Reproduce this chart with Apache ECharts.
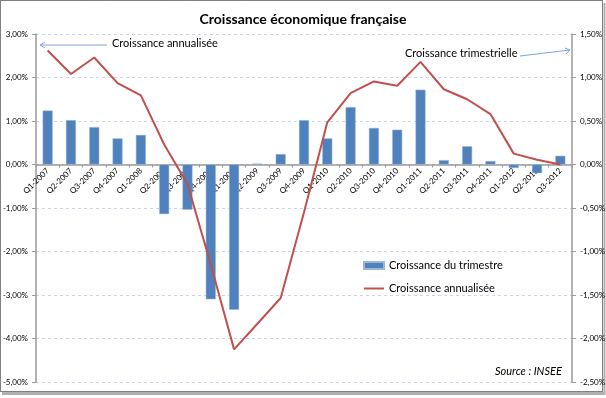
<!DOCTYPE html>
<html>
<head>
<meta charset="utf-8">
<script src="https://cdn.jsdelivr.net/npm/echarts@6/dist/echarts.min.js"></script>
<style>
  html, body { margin: 0; padding: 0; background: #fff; }
  #main { width: 606px; height: 398px; }
</style>
</head>
<body>
<div id="main"></div>
<script>
// trimestres
var categories = ['Q1-2007','Q2-2007','Q3-2007','Q4-2007','Q1-2008','Q2-2008','Q3-2008','Q4-2008',
    'Q1-2009','Q2-2009','Q3-2009','Q4-2009','Q1-2010','Q2-2010','Q3-2010','Q4-2010',
    'Q1-2011','Q2-2011','Q3-2011','Q4-2011','Q1-2012','Q2-2012','Q3-2012'];

// croissance du trimestre (axe de droite, en %)
var trimestre = [0.62, 0.51, 0.43, 0.30, 0.34, -0.57, -0.52, -1.55,
    -1.67, 0.01, 0.12, 0.51, 0.30, 0.66, 0.42, 0.40,
    0.86, 0.05, 0.21, 0.04, -0.04, -0.10, 0.10];

// croissance annualisée (axe de gauche, en %)
var annualisee = [2.62, 2.08, 2.46, 1.87, 1.59, 0.46, -0.45, -2.30,
    -4.25, -3.66, -3.07, -1.10, 0.97, 1.64, 1.91, 1.81,
    2.36, 1.73, 1.50, 1.16, 0.25, 0.11, 0.00];

var fontName = 'Lato, "Open Sans", sans-serif';

function pct(v) {
    return v.toFixed(2).replace('.', ',') + '%';
}

var myChart = echarts.init(document.getElementById('main'));

var axisCommon = {
    type: 'value',
    axisLine: { show: true, lineStyle: { color: '#9a9a9a', width: 1.5 } },
    axisTick: { show: true, length: 4, lineStyle: { color: '#9a9a9a' } },
    axisLabel: { fontSize: 8, color: '#000', fontFamily: fontName, formatter: pct },
    splitLine: { show: true, lineStyle: { color: '#c9d5ea', type: [3, 3] } }
};

var option = {
    animation: false,
    textStyle: { fontFamily: fontName },
    title: {
        text: 'Croissance économique française',
        left: 'center',
        top: 7,
        textStyle: { fontSize: 14, fontWeight: 'bold', color: '#000', fontFamily: fontName }
    },
    grid: { left: 36, right: 34, top: 34, bottom: 16, containLabel: false, outerBoundsMode: 'none' },
    legend: {
        orient: 'vertical',
        left: 358,
        top: 255,
        itemWidth: 20,
        itemHeight: 7,
        itemGap: 12,
        textStyle: { fontSize: 11, color: '#000', fontFamily: fontName },
        data: [
            { name: 'Croissance du trimestre', icon: 'rect' },
            { name: 'Croissance annualisée', icon: 'path://M0,0 H20 V2 H0 Z' }
        ]
    },
    xAxis: {
        type: 'category',
        data: categories,
        position: 'bottom',
        offset: -217.5, // axe placé au niveau du zéro
        axisLine: { onZero: false, lineStyle: { color: '#9a9a9a', width: 1.5 } },
        axisTick: { show: true, length: 3, lineStyle: { color: '#9a9a9a' } },
        axisLabel: { rotate: 45, fontSize: 8, color: '#000', margin: 5, interval: 0, fontFamily: fontName }
    },
    yAxis: [
        Object.assign({}, axisCommon, { min: -5, max: 3, interval: 1, position: 'left' }),
        Object.assign({}, axisCommon, { min: -2.5, max: 1.5, interval: 0.5, position: 'right',
            splitLine: { show: false } })
    ],
    series: [
        {
            name: 'Croissance du trimestre',
            type: 'bar',
            yAxisIndex: 1,
            barWidth: 10,
            itemStyle: { color: '#4f81bd', borderColor: '#9cb6d8', borderWidth: 0.5 },
            data: trimestre
        },
        {
            name: 'Croissance annualisée',
            type: 'line',
            yAxisIndex: 0,
            symbol: 'none',
            lineStyle: { color: '#c0504d', width: 2 },
            itemStyle: { color: '#c0504d' },
            data: annualisee
        }
    ],
    graphic: [
        // cadre pointillé + ombre
        { type: 'rect', shape: { x: 0.5, y: 0.5, width: 602, height: 391 },
          style: { fill: null, stroke: '#000', lineWidth: 1, lineDash: [1, 1] }, silent: true },
        { type: 'line', shape: { x1: 2, y1: 393.5, x2: 604, y2: 393.5 },
          style: { stroke: '#b0b0b0', lineWidth: 3 }, silent: true },
        { type: 'line', shape: { x1: 604.5, y1: 3, x2: 604.5, y2: 395 },
          style: { stroke: '#b0b0b0', lineWidth: 2 }, silent: true },
        // annotations
        { type: 'text', left: 112, top: 38,
          style: { text: 'Croissance annualisée', fontSize: 11, fill: '#000', fontFamily: fontName } },
        { type: 'line', shape: { x1: 107, y1: 45, x2: 40, y2: 45 },
          style: { stroke: '#7fa3d6', lineWidth: 1 } },
        { type: 'polyline', shape: { points: [[45, 42], [40, 45], [45, 48]] },
          style: { stroke: '#7fa3d6', lineWidth: 1, fill: null } },
        { type: 'text', left: 405, top: 48,
          style: { text: 'Croissance trimestrielle', fontSize: 11, fill: '#000', fontFamily: fontName } },
        { type: 'line', shape: { x1: 520, y1: 56, x2: 570, y2: 50 },
          style: { stroke: '#7fa3d6', lineWidth: 1 } },
        { type: 'polyline', shape: { points: [[565, 48], [570, 50], [566, 54]] },
          style: { stroke: '#7fa3d6', lineWidth: 1, fill: null } },
        { type: 'text', left: 495, top: 366,
          style: { text: 'Source : INSEE', fontSize: 11, fontStyle: 'italic', fill: '#000', fontFamily: fontName } }
    ]
};

myChart.setOption(option);
</script>
</body>
</html>
